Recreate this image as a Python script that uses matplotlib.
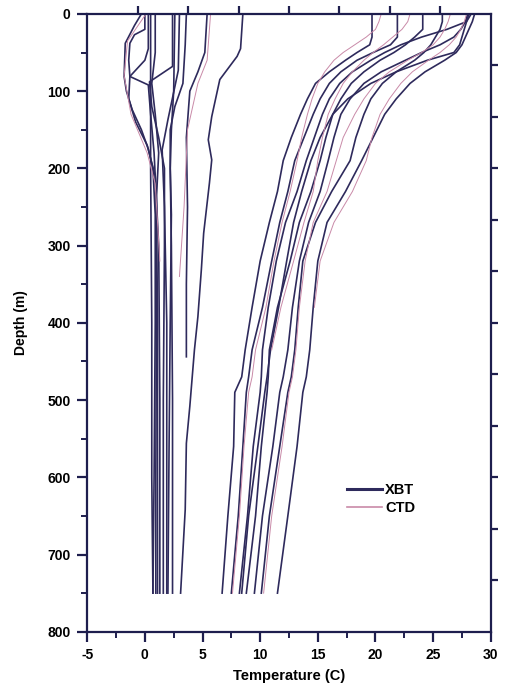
import numpy as np
from matplotlib import pyplot as plt
from matplotlib.lines import Line2D

# shared depth grid (m) for the warm profiles
warm_depth = [0, 10, 20, 30, 40, 50, 60, 75, 90, 110, 130, 160, 190, 230,
              270, 320, 380, 435, 470, 490, 560, 650, 750]

# warm XBT profiles, temperature (C) at warm_depth
warm_xbt_temps = [
    [19.7, 19.7, 19.7, 19.7, 19.5, 18.4, 17.4, 16.0, 14.8, 14.1, 13.5, 12.7, 12.0, 11.5, 10.8, 10.0, 9.3, 8.7, 8.4, 7.8, 7.7, 7.2, 6.7],
    [21.9, 21.9, 21.9, 21.9, 21.3, 19.8, 18.4, 17.0, 16.0, 15.2, 14.6, 13.8, 13.0, 12.4, 11.7, 11.0, 10.2, 9.3, 9.0, 8.8, 8.5, 8.1, 7.5],
    [28.3, 27.9, 26.2, 24.0, 22.2, 20.8, 19.6, 18.0, 16.9, 16.0, 15.4, 14.7, 14.0, 13.2, 12.2, 11.4, 10.7, 10.2, 10.1, 10.0, 9.4, 8.9, 8.2],
    [24.1, 24.1, 24.1, 23.4, 22.6, 21.6, 20.4, 19.0, 17.9, 17.0, 16.3, 15.7, 15.2, 14.4, 13.4, 12.6, 11.5, 10.8, 10.7, 10.6, 10.1, 9.6, 8.8],
    [28.0, 27.8, 27.4, 26.8, 25.6, 24.0, 22.6, 20.5, 19.0, 17.8, 17.0, 16.4, 15.9, 15.2, 14.2, 13.4, 12.8, 12.4, 12.0, 11.7, 11.1, 10.2, 9.5],
    [25.8, 25.8, 25.6, 25.2, 24.8, 24.2, 23.4, 21.8, 20.6, 19.6, 19.0, 18.3, 17.8, 16.2, 14.8, 13.7, 13.3, 13.0, 12.7, 12.4, 11.7, 10.8, 10.1],
    [28.6, 28.4, 28.1, 27.8, 27.5, 27.0, 26.0, 24.3, 23.0, 21.8, 20.8, 19.8, 18.8, 17.4, 15.8, 15.0, 14.6, 14.3, 14.0, 13.7, 13.2, 12.4, 11.5],
    [28.1, 27.9, 27.7, 27.5, 27.3, 26.8, 24.5, 21.8, 19.6, 17.6, 16.3, 15.2, 14.4, 13.6, 12.9, 12.3, 11.6, 10.9, 10.6, 10.4, 9.8, 9.0, 8.4],
]

# warm CTD profiles (shorter lists stop higher up)
warm_ctd_temps = [
    [27.9, 27.7, 27.4, 27.0, 26.4, 25.6, 24.6, 23.2, 22.2, 21.2, 20.4, 19.7, 19.2, 18.0, 16.4, 15.2, 14.7],
    [26.5, 26.3, 26.0, 25.6, 25.0, 24.0, 22.8, 21.2, 20.0, 19.0, 18.2, 17.2, 16.6, 15.8, 14.6, 13.9, 13.4, 13.1, 12.8, 12.5, 11.9, 11.0, 10.3],
    [20.5, 20.3, 20.0, 19.2, 18.2, 17.2, 16.4, 15.6, 15.0, 14.5, 14.1, 13.6, 13.2, 12.6, 11.9, 11.2, 10.5, 9.6, 9.3, 9.0, 8.6, 8.2, 7.6],
    [23.0, 22.8, 22.3, 21.5, 20.7, 19.8, 19.0, 18.0, 17.2, 16.5, 15.9, 15.4, 15.0, 14.6, 13.8, 12.9, 11.8, 11.0],
]

# cold XBT profiles
cold_xbt_temps = [
    [-0.3, -0.9, -1.7, -1.8, -1.6, -1.1, -0.3, 0.3, 0.7, 0.9, 0.9, 0.8, 0.7],
    [0.0, 0.0, -0.9, -1.3, -1.4, -1.3, 0.3, 0.5, 0.8, 1.0, 1.1, 1.1, 1.1],
    [0.3, 0.3, 0.0, -1.3, -1.4, -0.8, 0.2, 0.9, 1.2, 1.3, 1.3],
    [0.5, 0.5, 0.6, 0.6, 0.7],
    [0.9, 0.9, 0.6, 0.9, 1.2, 1.0, 1.0, 0.95, 0.95],
    [2.4, 2.4, 0.4, 0.6, 1.2, 1.7, 1.7, 1.6, 1.6],
    [3.0, 2.9, 2.0, 1.5, 1.7, 1.9, 1.9, 1.9],
    [3.6, 3.5, 3.3, 2.6, 2.2, 2.2, 2.3, 2.4, 2.4],
    [2.6, 2.5, 2.3, 2.2, 2.3, 2.2, 2.1, 2.0],
    [5.4, 5.2, 4.6, 3.9, 3.6, 3.7, 3.6, 3.6],
    [8.5, 8.3, 8.0, 6.5, 5.8, 5.5, 5.8, 5.6, 5.1, 4.9, 4.6, 4.3, 3.9, 3.6, 3.5, 3.1],
]
cold_xbt_depths = [
    [0, 15, 38, 81, 100, 124, 150, 175, 200, 260, 400, 600, 750],
    [0, 20, 27, 38, 60, 81, 92, 130, 180, 240, 400, 560, 750],
    [0, 45, 60, 81, 110, 140, 170, 210, 300, 500, 750],
    [0, 200, 400, 600, 750],
    [0, 50, 90, 130, 180, 240, 400, 600, 750],
    [0, 68, 88, 120, 160, 200, 300, 500, 750],
    [0, 73, 137, 176, 250, 400, 560, 750],
    [0, 40, 90, 120, 150, 200, 300, 500, 750],
    [0, 100, 150, 200, 260, 400, 560, 750],
    [0, 50, 75, 100, 160, 250, 350, 444],
    [0, 45, 55, 85, 133, 163, 189, 219, 284, 331, 392, 435, 508, 556, 642, 750],
]

# cold CTD profiles
cold_ctd_temps = [
    [5.7, 5.4, 4.6, 3.7, 3.4, 3.0],
    [0.1, -1.5, -1.8, -1.2, 0.2, 0.9, 1.3],
]
cold_ctd_depths = [
    [0, 60, 90, 150, 250, 340],
    [0, 35, 80, 130, 180, 220, 320],
]

xbt_color = '#2e2a5c'
ctd_color = '#c98aa8'
axis_color = '#1e1e4e'

plt.rcParams['font.family'] = ['Liberation Sans', 'DejaVu Sans']
plt.rcParams['font.weight'] = 'bold'
plt.rcParams['axes.unicode_minus'] = False

fig = plt.figure(figsize=(5.07, 6.95), dpi=100)
ax = fig.add_axes([0.172, 0.091, 0.796, 0.889])

for temps in warm_xbt_temps:
    ax.plot(temps, warm_depth[:len(temps)], color=xbt_color, lw=1.2)
for temps, depths in zip(cold_xbt_temps, cold_xbt_depths):
    ax.plot(temps, depths, color=xbt_color, lw=1.2)
for temps in warm_ctd_temps:
    ax.plot(temps, warm_depth[:len(temps)], color=ctd_color, lw=0.7)
for temps, depths in zip(cold_ctd_temps, cold_ctd_depths):
    ax.plot(temps, depths, color=ctd_color, lw=0.7)

ax.set_xlim(-5, 30)
ax.set_ylim(800, 0)
ax.set_xticks(np.arange(-5, 31, 5))
ax.set_xticks(np.arange(-5, 30, 2.5), minor=True)
ax.set_yticks(np.arange(0, 801, 100))
ax.set_yticks(np.arange(0, 800, 50), minor=True)

for sp in ax.spines.values():
    sp.set_color(axis_color)
    sp.set_linewidth(1.6)
ax.tick_params(which='major', direction='out', length=7, width=1.6, color=axis_color,
               labelsize=10, pad=5)
ax.tick_params(which='minor', direction='out', length=4, width=1.4, color=axis_color)

# unlabeled ticks on the top edge: the frame is cut into 8 equal parts there
for frac in np.arange(1, 8) / 8:
    ax.plot([frac, frac], [1.0, 1.012], transform=ax.transAxes, color=axis_color,
            lw=1.6, clip_on=False, solid_capstyle='butt')

# unlabeled ticks on the right edge (12 equal parts)
axr = ax.twinx()
axr.set_ylim(12, 0)
axr.set_yticks(range(1, 12))
axr.set_yticklabels([])
axr.tick_params(direction='out', length=5, width=1.6, color=axis_color)
for sp in axr.spines.values():
    sp.set_visible(False)

ax.set_xlabel('Temperature (C)', fontsize=10.5, fontweight='bold', labelpad=5)
ax.set_ylabel('Depth (m)', fontsize=10, fontweight='bold', labelpad=14)

handles = [Line2D([], [], color=xbt_color, lw=2.2), Line2D([], [], color=ctd_color, lw=1.2)]
ax.legend(handles, ['XBT', 'CTD'], loc='center left', bbox_to_anchor=(0.63, 0.215),
          frameon=False, fontsize=10.5, handlelength=2.4, handletextpad=0.2,
          labelspacing=0.3, borderaxespad=0)

fig.savefig('out.png', dpi=100)
